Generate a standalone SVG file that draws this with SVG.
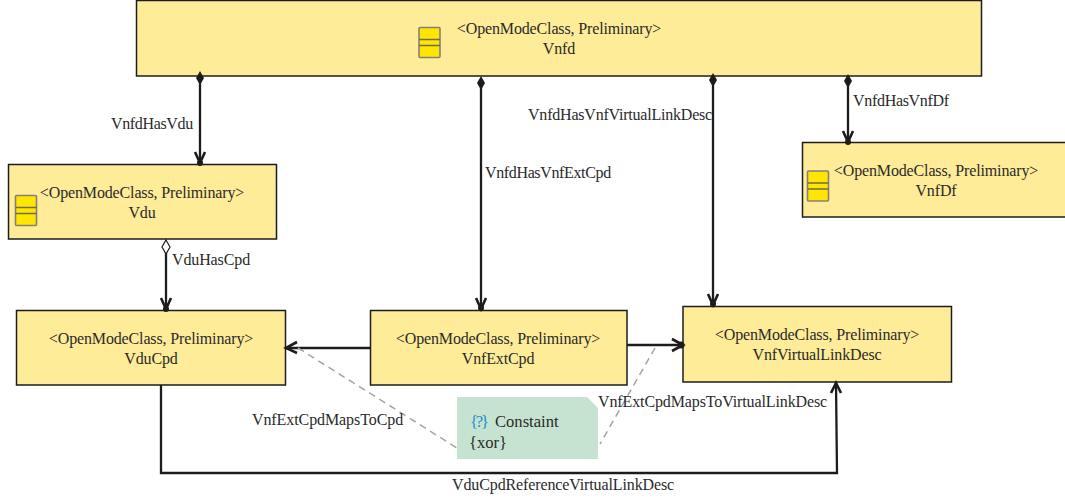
<svg xmlns="http://www.w3.org/2000/svg" width="1065" height="499" viewBox="0 0 1065 499">
<style>
text{font-family:"Liberation Serif","Times New Roman",serif;font-size:16px;letter-spacing:-0.14px;fill:#2a2a2a}
.m{text-anchor:middle}
.n{font-size:16.6px;letter-spacing:0}
.box{fill:#ffec99;stroke:#1c1c1c;stroke-width:1.5}
.ic{fill:#ffe600;stroke:#85817a;stroke-width:1.6}
.il{fill:none;stroke:#6f6a50;stroke-width:1.6}
.c{fill:none;stroke:#1c1c1c;stroke-width:2.3}
.a{fill:none;stroke:#1c1c1c;stroke-width:2.6}
.d{fill:none;stroke:#a3a3a3;stroke-width:1.5;stroke-dasharray:7 5}
.df{fill:#1c1c1c}
.do{fill:#fff;stroke:#1c1c1c;stroke-width:1.2}
</style>
<defs>
<g id="icon"><rect class="ic" x="0" y="0" width="21" height="30" rx="1"/><path class="il" d="M0 12H21M0 18H21"/></g>
</defs>
<g id="Vnfd"><rect class="box" x="136.500" y="0.500" width="845" height="75.500"/><use href="#icon" x="419" y="27.500"/><text class="m" x="559" y="34">&lt;OpenModeClass, Preliminary&gt;</text><text class="m" x="559" y="53.500">Vnfd</text></g>
<g id="Vdu"><rect class="box" x="8.500" y="164.500" width="268" height="74.500"/><use href="#icon" x="15.500" y="195.500"/><text class="m" x="142" y="198">&lt;OpenModeClass, Preliminary&gt;</text><text class="m" x="142" y="217.500">Vdu</text></g>
<g id="VnfDf"><rect class="box" x="802.500" y="142.500" width="268" height="74.500"/><use href="#icon" x="807.500" y="171"/><text class="m" x="936" y="176">&lt;OpenModeClass, Preliminary&gt;</text><text class="m" x="936" y="195.500">VnfDf</text></g>
<g id="VduCpd"><rect class="box" x="16.500" y="310.500" width="269" height="74.500"/><text class="m" x="151" y="344">&lt;OpenModeClass, Preliminary&gt;</text><text class="m" x="151" y="363.500">VduCpd</text></g>
<g id="VnfExtCpd"><rect class="box" x="370.500" y="310.500" width="256.500" height="74.500"/><text class="m" x="498" y="344">&lt;OpenModeClass, Preliminary&gt;</text><text class="m" x="498" y="363.500">VnfExtCpd</text></g>
<g id="VnfVirtualLinkDesc"><rect class="box" x="683" y="306.500" width="268.500" height="75.500"/><text class="m" x="817" y="340">&lt;OpenModeClass, Preliminary&gt;</text><text class="m" x="817" y="359.500">VnfVirtualLinkDesc</text></g>
<g id="Constraint"><path d="M457 397H587L598 408V459H457Z" fill="#c6e2d0"/><text class="n" x="470" y="427" textLength="19" style="fill:#1f8fd0">{?}</text><text class="n" x="495" y="427">Constaint</text><text class="n" x="469" y="448">{xor}</text></g>
<g id="connectors">
<path class="c" d="M200 80V163"/><path class="a" d="M195 152L200 163L205 152"/><path class="df" d="M200 71L204 78L200 85L196 78Z"/><circle class="df" cx="200" cy="163" r="3"/>
<path class="c" d="M481 84V309"/><path class="a" d="M476 298L481 309L486 298"/><path class="df" d="M481 76L485 83L481 90L477 83Z"/><circle class="df" cx="481" cy="308" r="3"/>
<path class="c" d="M713 80V305"/><path class="a" d="M708 294L713 305L718 294"/><path class="df" d="M713 73L717 80L713 87L709 80Z"/><circle class="df" cx="713" cy="304" r="3"/>
<path class="c" d="M848 84V142"/><path class="a" d="M843 131L848 142L853 131"/><path class="df" d="M848 74L852 81L848 88L844 81Z"/><circle class="df" cx="848" cy="142" r="3"/>
<path class="c" d="M166 252V309"/><path class="a" d="M161 298L166 309L171 298"/><path class="do" d="M166 240L170 247L166 254L162 247Z"/><circle class="df" cx="166" cy="309" r="3"/>
<path class="c" d="M370 348H286"/><path class="a" d="M297 342L286 348L297 353"/>
<path class="c" d="M627 345H683"/><path class="a" d="M672 339L683 345L672 351"/><circle class="df" cx="681" cy="345" r="3.500"/>
<path class="c" d="M161 385V473H837L836 383"/><path class="a" d="M831 393L836 383L841 393"/>
<path class="d" d="M298 348L457 448"/><path class="d" d="M655 348L600 444"/>
</g>
<g id="labels">
<text x="111" y="129" textLength="82">VnfdHasVdu</text>
<text x="485" y="178" textLength="126">VnfdHasVnfExtCpd</text>
<text x="528" y="120" textLength="184">VnfdHasVnfVirtualLinkDesc</text>
<text x="853" y="106" textLength="96">VnfdHasVnfDf</text>
<text x="172" y="265" textLength="78">VduHasCpd</text>
<text x="252" y="425" textLength="151">VnfExtCpdMapsToCpd</text>
<text x="598" y="407" textLength="229">VnfExtCpdMapsToVirtualLinkDesc</text>
<text x="452" y="490" textLength="222">VduCpdReferenceVirtualLinkDesc</text>
</g>
</svg>
